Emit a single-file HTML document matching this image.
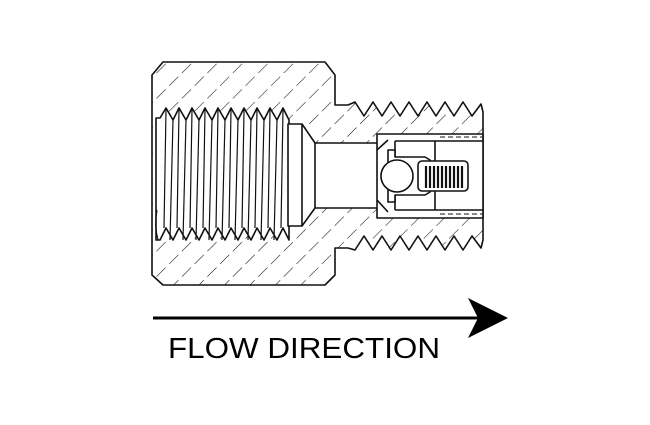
<!DOCTYPE html>
<html><head><style>
html,body{margin:0;padding:0;background:#fff;}
svg{display:block;}
</style></head><body>
<svg width="650" height="425" viewBox="0 0 650 425" xmlns="http://www.w3.org/2000/svg">
<defs>
<pattern id="h" width="18" height="18" patternUnits="userSpaceOnUse" patternTransform="rotate(45)">
<line x1="0" y1="0" x2="0" y2="18" stroke="#111" stroke-width="1.1" stroke-dasharray="13 5"/>
</pattern>
</defs>
<g stroke="#111" stroke-width="1.6" stroke-linejoin="round">
<path fill="url(#h)" d="M152,75 L163,62 L325,62 L335,75 L335,105 L348,105
L355,102 L364,116 L373,102 L382,116 L391,102 L400,116 L409,102 L418,116 L427,102 L436,116 L445,102 L454,116 L463,102 L472,116 L481,104 L483,112
L483,240 L481,248 L472,236 L463,250 L454,236 L445,250 L436,236 L427,250 L418,236 L409,250 L400,236 L391,250 L382,236 L373,250 L364,236 L355,250 L348,248
L335,248 L335,275 L325,285 L163,285 L152,275 Z"/>
<path fill="#fff" d="M160,118 L166,108 L173,120 L179,108 L186,120 L192,108 L199,120 L205,108 L212,120 L218,108 L225,120 L231,108 L238,120 L244,108 L251,120 L257,108 L264,120 L270,108 L277,120 L283,108 L289,120
L289,240 L283,228 L277,240 L270,228 L264,240 L257,228 L251,240 L244,228 L238,240 L231,228 L225,240 L218,228 L212,240 L205,228 L199,240 L192,228 L186,240 L179,228 L173,240 L166,228 L160,240 L156,240 L156,118 Z"/>
<g stroke-width="1.2">
<path fill="none" d="M166,110 L164,228 M173,120 L170,240 M179,110 L177,228 M186,120 L183,240 M192,110 L190,228 M199,120 L196,240 M205,110 L203,228 M212,120 L209,240 M218,110 L216,228 M225,120 L222,240 M231,110 L229,228 M238,120 L235,240 M244,110 L242,228 M251,120 L248,240 M257,110 L255,228 M264,120 L261,240 M270,110 L268,228 M277,120 L274,240 M283,110 L281,228"/>
<path fill="none" d="M157,210 Q154,225 158,240"/>
</g>
<path fill="#fff" d="M288,124 L302,124 L315,143 L378,143 L378,208 L315,208 L302,226 L288,226 Z"/>
<line x1="302" y1="124" x2="302" y2="226"/>
<line x1="315" y1="143" x2="315" y2="208"/>
<rect x="377" y="134" width="106" height="84" fill="#fff"/>
<path fill="none" d="M395,141 L483,141 M395,210 L483,210 M395,141 L395,210 M435,141 L435,210"/>
<path fill="none" stroke-width="1" stroke-dasharray="5 3" d="M440,137 L483,137 M440,214 L483,214"/>
<path fill="none" d="M377,150 L388,140 M377,200 L388,212"/>
<path fill="#fff" d="M388,150 L395,150 L395,157 L425,157 L430,160 L430,192 L425,195 L395,195 L395,202 L388,202 Z"/>
<rect x="418" y="161" width="50" height="30" rx="4" fill="#fff"/>
<g stroke-width="2.2">
<path d="M426,166 V188 M430,166 V188 M434,166 V188 M438,166 V188 M442,166 V188 M446,166 V188 M450,166 V188 M454,166 V188 M458,166 V188 M462,166 V188"/>
</g>
<circle cx="397" cy="176" r="16" fill="#fff"/>
</g>
<line x1="153" y1="318" x2="478" y2="318" stroke="#000" stroke-width="3"/>
<path d="M468,298 L508,318 L468,338 L478,318 Z" fill="#000"/>
<text x="168" y="358" font-family="Liberation Sans, sans-serif" font-size="29" fill="#000" textLength="272" lengthAdjust="spacingAndGlyphs">FLOW DIRECTION</text>
</svg>
</body></html>
